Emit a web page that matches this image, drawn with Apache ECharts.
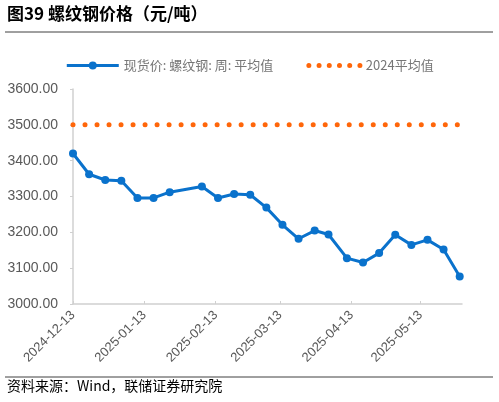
<!DOCTYPE html>
<html>
<head>
<meta charset="utf-8">
<script src="https://cdn.jsdelivr.net/npm/echarts@6/dist/echarts.min.js"></script>
<style>
html,body{margin:0;padding:0;background:#fff;}
#chart{width:499px;height:402px;}
</style>
</head>
<body>
<div id="chart"></div>
<script>
var dates = ['2024-12-13','2024-12-20','2024-12-27','2025-01-03','2025-01-10','2025-01-17','2025-01-24',
  '2025-02-07','2025-02-14','2025-02-21','2025-02-28','2025-03-07','2025-03-14','2025-03-21','2025-03-28',
  '2025-04-03','2025-04-11','2025-04-18','2025-04-25','2025-05-02','2025-05-09','2025-05-16','2025-05-23','2025-05-30'];
var spotPrice = [3420,3362,3346,3344,3296,3296,3312,3328,3296,3307,3305,3269,3221,3182,3205,3194,3128,3116,3142,3193,3165,3179,3152,3077];
var avg2024 = 3500;
var tickDates = ['2024-12-13','2025-01-13','2025-02-13','2025-03-13','2025-04-13','2025-05-13'];
var yTicks = [3000,3100,3200,3300,3400,3500,3600];
var xMin = '2024-12-13', xMax = '2025-05-31';

function ts(s){var p=s.split('-');return Date.UTC(+p[0],+p[1]-1,+p[2]);}
function fmt(t){var d=new Date(t);var m=d.getUTCMonth()+1,dd=d.getUTCDate();
  return d.getUTCFullYear()+'-'+(m<10?'0':'')+m+'-'+(dd<10?'0':'')+dd;}

var chart = echarts.init(document.getElementById('chart'));
var gray = '#595959';
chart.setOption({
  animation:false,
  backgroundColor:'#fff',
  graphic:[
    {type:'text',left:7,top:5,style:{text:'图39 螺纹钢价格（元/吨）',font:'bold 17px "Noto Sans CJK SC", sans-serif',fill:'#000'}},
    {type:'line',shape:{x1:5,y1:32,x2:493,y2:32},style:{stroke:'#404040',lineWidth:1}},
    {type:'line',shape:{x1:5,y1:377,x2:493,y2:377},style:{stroke:'#404040',lineWidth:1}},
    {type:'text',left:7,top:379,style:{text:'资料来源：Wind，联储证券研究院',font:'14px "Noto Sans CJK SC", sans-serif',fill:'#000'}}
  ],
  legend:{
    top:54,left:'center',itemGap:33,itemWidth:52,itemHeight:10,
    textStyle:{color:'#767676',fontSize:13,fontFamily:'"Noto Sans CJK SC", sans-serif'},
    data:[
      {name:'现货价: 螺纹钢: 周: 平均值',lineStyle:{width:3,color:'#0A72CC'}},
      {name:'2024平均值',itemStyle:{opacity:0},lineStyle:{width:5,color:'#FF660A',type:[0.01,10.2],cap:'round'}}
    ]
  },
  grid:{left:73,right:37,top:89,bottom:98,containLabel:false},
  xAxis:{
    type:'value',min:ts(xMin),max:ts(xMax),
    axisLine:{lineStyle:{color:'#d0d0d0',width:1.5}},
    axisTick:{show:true,inside:true,length:3,lineStyle:{color:'#d0d0d0'},customValues:tickDates.map(ts)},
    axisLabel:{rotate:45,color:gray,fontSize:13,fontFamily:'"Liberation Sans", Arial, sans-serif',margin:9,
      customValues:tickDates.map(ts),formatter:function(v){return fmt(v);}},
    splitLine:{show:false}
  },
  yAxis:{
    type:'value',min:yTicks[0],max:yTicks[yTicks.length-1],interval:100,
    axisLine:{show:true,lineStyle:{color:'#d0d0d0',width:1.5}},
    axisTick:{show:true,length:3,lineStyle:{color:'#d0d0d0'}},
    axisLabel:{color:gray,fontSize:14,fontFamily:'"Liberation Sans", Arial, sans-serif',margin:15,
      formatter:function(v){return v.toFixed(2);}},
    splitLine:{show:false}
  },
  series:[
    {name:'现货价: 螺纹钢: 周: 平均值',type:'line',
     data:dates.map(function(d,i){return [ts(d),spotPrice[i]];}),
     symbol:'circle',symbolSize:8,color:'#0A72CC',
     lineStyle:{width:3,color:'#0A72CC'},itemStyle:{color:'#0A72CC'}},
    {name:'2024平均值',type:'line',
     data:dates.map(function(d){return [ts(d),avg2024];}),
     showSymbol:false,symbol:'none',color:'#FF660A',
     lineStyle:{width:5,color:'#FF660A',type:[0.01,12],cap:'round'}}
  ]
});
</script>
</body>
</html>
